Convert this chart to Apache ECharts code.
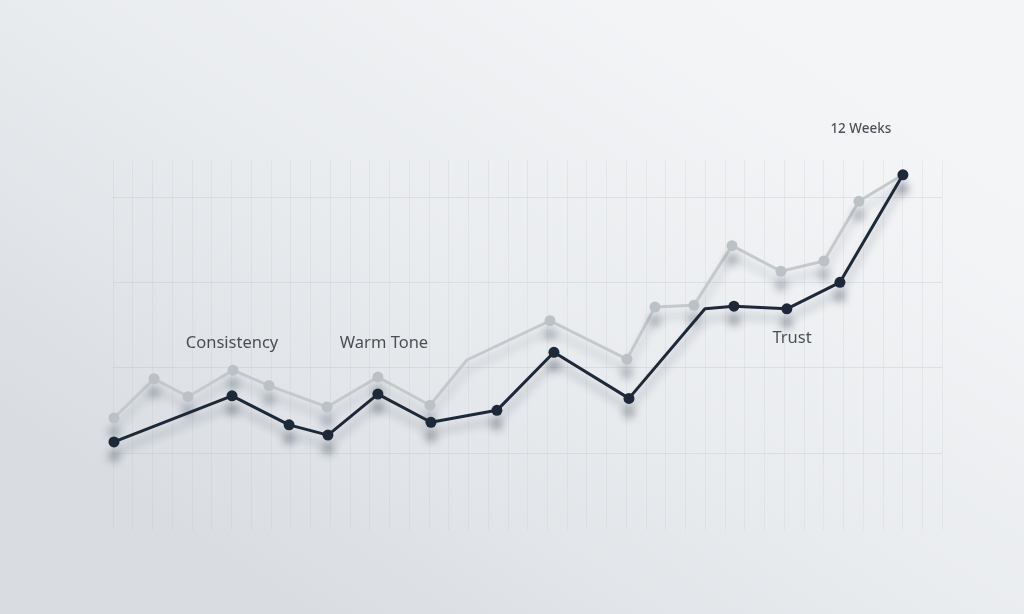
<!DOCTYPE html>
<html>
<head>
<meta charset="utf-8">
<script src="https://cdn.jsdelivr.net/npm/echarts@6/dist/echarts.min.js"></script>
<style>
html,body{margin:0;padding:0;width:1024px;height:614px;overflow:hidden;}
#chart{width:1024px;height:614px;}
</style>
</head>
<body>
<div id="chart"></div>
<script>
// x positions in grid-column units, y in grid-row units
var darkX = [0.05, 6.03, 8.92, 10.89, 13.42, 16.11, 19.45, 22.34, 26.14, 29.99, 31.46, 34.14, 36.83, 40.02];
var darkY = [0.13, 0.67, 0.33, 0.21, 0.69, 0.36, 0.50, 1.18, 0.64, 1.69, 1.72, 1.69, 2.00, 3.26];
var darkMarked = [1,1,1,1,1,1,1,1,1,0,1,1,1,1];

var grayX = [0.05, 2.08, 3.80, 6.08, 7.90, 10.84, 13.42, 16.06, 17.93, 22.14, 26.04, 27.46, 29.43, 31.36, 33.84, 36.02, 37.79, 40.02];
var grayY = [0.41, 0.87, 0.66, 0.97, 0.79, 0.54, 0.89, 0.56, 1.09, 1.55, 1.10, 1.71, 1.73, 2.43, 2.13, 2.25, 2.95, 3.26];
var grayMarked = [1,1,1,1,1,1,1,1,0,1,1,1,1,1,1,1,1,0];

var labelNames = ['Consistency', 'Warm Tone', 'Trust', '12 Weeks'];
var labelX = [6.03, 13.73, 34.40, 37.89];
var labelY = [1.29, 1.29, 1.34, 3.80];

function build(xs, ys, marks) {
  return xs.map(function (x, i) {
    var d = { value: [x, ys[i]] };
    if (!marks[i]) d.symbol = 'none';
    return d;
  });
}

var chart = echarts.init(document.getElementById('chart'));
chart.setOption({
  animation: false,
  backgroundColor: {
    type: 'linear', x: 0.7, y: 0, x2: 0.3, y2: 1,
    colorStops: [
      { offset: 0, color: '#f4f5f7' },
      { offset: 0.55, color: '#e8ebee' },
      { offset: 1, color: '#d9dde2' }
    ]
  },
  grid: [
    { left: 113, right: 82, top: 197, bottom: 161 },
    { left: 113, right: 82, top: 160, bottom: 84 }
  ],
  xAxis: [
    { gridIndex: 0, type: 'value', min: 0, max: 42, interval: 1, show: true,
      axisLine: { show: false }, axisTick: { show: false }, axisLabel: { show: false },
      splitLine: { show: false } },
    { gridIndex: 1, type: 'value', min: 0, max: 42, interval: 1,
      axisLine: { show: false }, axisTick: { show: false }, axisLabel: { show: false },
      splitLine: { show: true, lineStyle: { color: 'rgba(165,178,192,0.16)', width: 1 } } }
  ],
  yAxis: [
    { gridIndex: 0, type: 'value', min: 0, max: 3, interval: 1,
      axisLine: { show: false }, axisTick: { show: false }, axisLabel: { show: false },
      splitLine: { show: true, lineStyle: { color: 'rgba(165,180,195,0.25)', width: 1.2 } } },
    { gridIndex: 1, type: 'value', min: 0, max: 1, show: false, splitLine: { show: false } }
  ],
  series: [
    {
      type: 'line', xAxisIndex: 0, yAxisIndex: 0, clip: false,
      data: build(grayX, grayY, grayMarked),
      symbol: 'circle', symbolSize: 11,
      lineStyle: { color: '#c5c9cd', width: 3, shadowColor: 'rgba(40,55,75,0.22)', shadowBlur: 8, shadowOffsetY: 10 },
      itemStyle: { color: '#bcc1c6', shadowColor: 'rgba(40,55,75,0.35)', shadowBlur: 8, shadowOffsetY: 14 },
      z: 2
    },
    {
      type: 'line', xAxisIndex: 0, yAxisIndex: 0, clip: false,
      data: build(darkX, darkY, darkMarked),
      symbol: 'circle', symbolSize: 11,
      lineStyle: { color: '#1d2938', width: 3, shadowColor: 'rgba(30,42,58,0.3)', shadowBlur: 8, shadowOffsetY: 10 },
      itemStyle: { color: '#1d2938', shadowColor: 'rgba(30,42,58,0.4)', shadowBlur: 8, shadowOffsetY: 14 },
      z: 3
    },
    {
      type: 'scatter', xAxisIndex: 0, yAxisIndex: 0, clip: false,
      symbolSize: 0, silent: true,
      data: labelNames.map(function (n, i) {
        var d = { name: n, value: [labelX[i], labelY[i]] };
        if (n === '12 Weeks') d.label = { fontSize: 13.5, fontWeight: 500 };
        return d;
      }),
      label: {
        show: true, position: 'inside', formatter: '{b}',
        color: '#1f252d', fontFamily: 'Noto Sans', fontSize: 16.5
      },
      z: 4
    }
  ]
});
</script>
</body>
</html>
